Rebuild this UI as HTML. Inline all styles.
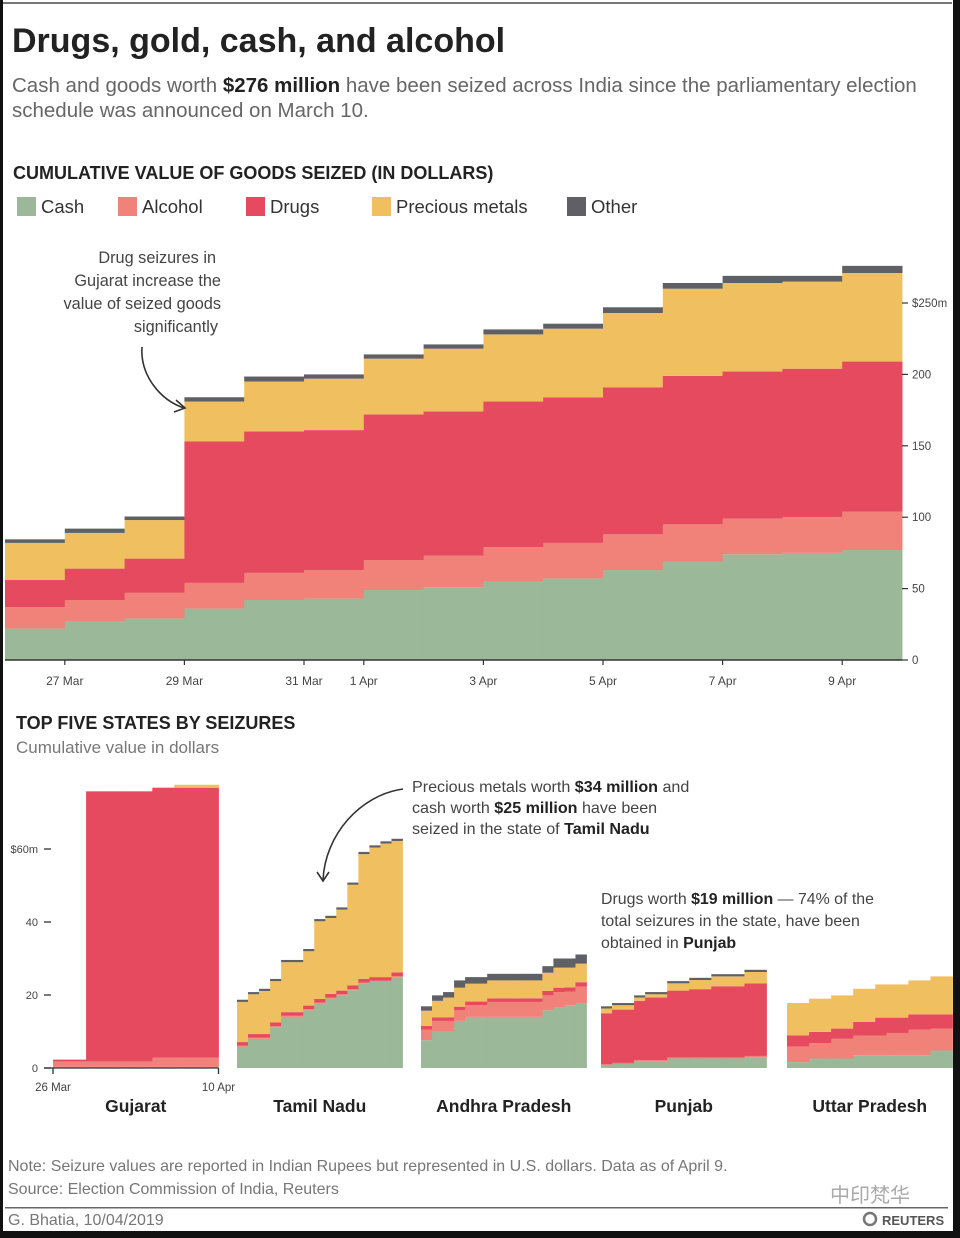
<!DOCTYPE html>
<html><head><meta charset="utf-8"><style>
html,body{margin:0;padding:0;background:#fff}
svg{display:block}
text{font-family:"Liberation Sans","Noto Sans CJK SC",sans-serif}
</style></head><body>
<svg id="c" width="960" height="1238" viewBox="0 0 960 1238" xmlns="http://www.w3.org/2000/svg">
<rect x="0" y="0" width="960" height="1238" fill="#fff"/>
<rect x="0" y="2" width="952" height="2" fill="#777"/>
<rect x="0" y="0" width="3" height="1238" fill="#111"/>
<rect x="953" y="0" width="7" height="1238" fill="#111"/>
<rect x="0" y="1231" width="960" height="7" fill="#111"/>
<text x="12" y="52" font-size="34" font-weight="bold" fill="#222">Drugs, gold, cash, and alcohol</text>
<text x="12" y="92" font-size="20.5" fill="#666">Cash and goods worth <tspan font-weight="bold" fill="#222">$276 million</tspan> have been seized across India since the parliamentary election</text>
<text x="12" y="117" font-size="20.5" fill="#666">schedule was announced on March 10.</text>
<text x="13" y="179" font-size="18" font-weight="bold" fill="#222">CUMULATIVE VALUE OF GOODS SEIZED (IN DOLLARS)</text>
<g id="legend"></g>
<g id="main"></g>
<g font-size="16.3" fill="#444" text-anchor="end">
<text x="216" y="263">Drug seizures in</text>
<text x="221" y="286">Gujarat increase the</text>
<text x="221" y="309">value of seized goods</text>
<text x="218" y="332">significantly</text>
</g>
<path d="M142,347 C140,375 160,400 184,408" fill="none" stroke="#333" stroke-width="1.6"/>
<path d="M176,400 L185,408 L174,412" fill="none" stroke="#333" stroke-width="1.6"/>
<text x="16" y="729" font-size="18" font-weight="bold" fill="#222">TOP  FIVE STATES BY SEIZURES</text>
<text x="16" y="753" font-size="17" fill="#777">Cumulative value in dollars</text>
<g id="small"></g>
<g font-size="16.1" fill="#444">
<text x="412" y="792">Precious metals worth <tspan font-weight="bold" fill="#222">$34 million</tspan> and</text>
<text x="412" y="813">cash worth <tspan font-weight="bold" fill="#222">$25 million</tspan> have been</text>
<text x="412" y="834">seized in the state of <tspan font-weight="bold" fill="#222">Tamil Nadu</tspan></text>
</g>
<path d="M403,789 C360,795 325,835 323,880" fill="none" stroke="#333" stroke-width="1.6"/>
<path d="M317,872 L323,881 L329,872" fill="none" stroke="#333" stroke-width="1.6"/>
<g font-size="15.9" fill="#444">
<text x="601" y="904">Drugs worth <tspan font-weight="bold" fill="#222">$19 million</tspan> — 74% of the</text>
<text x="601" y="926">total seizures in the state, have been</text>
<text x="601" y="948">obtained in <tspan font-weight="bold" fill="#222">Punjab</tspan></text>
</g>
<text x="8" y="1171" font-size="16" fill="#777">Note: Seizure values are reported in Indian Rupees but represented in U.S. dollars. Data as of April 9.</text>
<text x="8" y="1194" font-size="16" fill="#777">Source: Election Commission of India, Reuters</text>
<text x="830" y="1202" font-size="20" fill="#aaa">中印梵华</text>
<rect x="5" y="1207" width="943" height="1.5" fill="#666"/>
<text x="8" y="1225" font-size="16" fill="#777">G. Bhatia,  10/04/2019</text>
<circle cx="870" cy="1219" r="6" fill="none" stroke="#777" stroke-width="2.5"/>
<text x="882" y="1225" font-size="13" font-weight="bold" fill="#555">REUTERS</text>
</svg>
<script>
// ---- Main chart data (millions USD, per-day increments by category, 26 Mar .. 9 Apr)
const days = ["26 Mar","27 Mar","28 Mar","29 Mar","30 Mar","31 Mar","1 Apr","2 Apr","3 Apr","4 Apr","5 Apr","6 Apr","7 Apr","8 Apr","9 Apr"];
const cash     = [22,27,29,36,42,43,49,51,55,57,63,69,74,75,77];
const alcohol  = [15,15,18,18,19,20,21,22,24,25,25,26,25,25,27];
const drugs    = [19,22,24,99,99,98,102,101,102,102,103,104,103,104,105];
const precious = [26,25,27,28,35,36,39,44,47,48,52,61,62,61,62];
const other    = [2.5,3,2.5,3,3.5,3,3,3,3.5,3.5,4,4,5,4,5];
const yTicks = [0,50,100,150,200,250];
const yTickLabels = ["0","50","100","150","200","$250m"];
const xTickLabels = ["27 Mar","29 Mar","31 Mar","1 Apr","3 Apr","5 Apr","7 Apr","9 Apr"];
const xTickIdx = [1,3,5,6,8,10,12,14];

// ---- State panels data (millions USD)
const states = ["Gujarat","Tamil Nadu","Andhra Pradesh","Punjab","Uttar Pradesh"];
const gjCash = [0.3,0.3,0.3,0.3,0.3,0.3,0.3,0.3,0.3,0.3,0.3,0.3,0.3,0.3,0.3];
const gjAlc  = [1.5,1.5,1.5,1.5,1.5,1.5,1.5,1.5,1.5,2.5,2.5,2.5,2.5,2.5,2.5];
const gjDrug = [0.5,0.5,0.5,74,74,74,74,74,74,74,74,74,74,74,74];
const gjPm   = [0,0,0,0,0,0,0,0,0,0,0,0.8,0.8,0.8,0.8];
const gjOth  = [0,0,0,0,0,0,0,0,0,0,0,0,0,0,0];
const tnCash = [5.8,8.0,8.0,11.2,14.0,14.0,15.8,17.6,19.0,19.9,21.3,23.1,23.6,23.6,24.9];
const tnAlc  = [0.3,0.3,0.3,0.3,0.3,0.3,0.3,0.3,0.3,0.3,0.3,0.3,0.3,0.3,0.3];
const tnDrug = [1,1,1,1,1,1,1,1,1,1,1,1,1,1,1];
const tnPm   = [11.0,10.9,11.8,11.3,13.7,13.7,14.9,21.3,20.8,22.2,27.6,34.2,35.5,36.6,36.0];
const tnOth  = [0.6,0.6,0.6,0.6,0.6,0.6,0.6,0.6,0.6,0.6,0.6,0.6,0.6,0.6,0.6];
const apCash = [7.6,9.9,9.9,12.9,14.0,14.0,14.0,14.0,14.0,14.0,14.0,15.8,16.7,17.2,17.7];
const apAlc  = [2.9,3.0,3.0,2.9,3.2,3.2,4.1,4.1,4.1,4.1,4.1,4.1,4.1,3.7,4.6];
const apDrug = [1,1,1,1,1,1,1,1,1,1,1,1.2,1.2,1.2,1.2];
const apPm   = [4.2,4.5,5.4,5.2,4.9,4.9,4.9,4.9,4.9,4.9,4.9,5.0,5.5,5.4,5.1];
const apOth  = [1.2,1.5,1.5,2.0,1.8,1.8,1.8,1.8,1.8,1.8,1.8,1.8,2.5,2.5,2.5];
const pbCash = [0.7,1.1,1.1,1.9,1.9,1.9,2.6,2.6,2.6,2.6,2.6,2.6,2.6,3.0,3.0];
const pbAlc  = [0.3,0.3,0.3,0.3,0.3,0.3,0.3,0.3,0.3,0.3,0.3,0.3,0.3,0.3,0.3];
const pbDrug = [14.0,14.6,14.6,16.2,17.1,17.1,18.3,18.3,18.7,18.7,19.5,19.5,19.5,19.9,19.9];
const pbPm   = [1.3,1.2,1.2,0.9,0.9,0.9,2.0,2.0,2.5,2.5,2.7,2.7,2.7,3.1,3.1];
const pbOth  = [0.6,0.6,0.6,0.6,0.6,0.6,0.6,0.6,0.6,0.6,0.6,0.6,0.6,0.6,0.6];
const upCash = [1.6,1.6,2.6,2.6,2.6,2.6,3.5,3.5,3.5,3.5,3.5,3.5,3.5,4.8,4.8];
const upAlc  = [4.3,4.3,4.2,4.2,5.4,5.4,5.4,5.4,5.4,6.1,6.1,7.0,7.0,6.0,6.0];
const upDrug = [3.0,3.0,3.1,3.1,2.8,2.8,3.7,3.7,4.9,4.2,4.2,4.2,4.2,3.9,3.9];
const upPm   = [8.9,8.9,9.1,9.1,9.1,9.1,9.1,9.1,9.1,9.1,9.1,9.3,9.3,10.4,10.4];
const upOth  = [0,0,0,0,0,0,0,0,0,0,0,0,0,0,0];
const smallTicks = [0,20,40,60];
const smallTickLabels = ["0","20","40","$60m"];

const NS = "http://www.w3.org/2000/svg";
const COLORS = ["#9bb898","#f08279","#e64a5f","#f0c060","#5f6066"];
const NAMES = ["Cash","Alcohol","Drugs","Precious metals","Other"];
function mk(tag, attrs, parent){const e=document.createElementNS(NS,tag);for(const k in attrs)e.setAttribute(k,attrs[k]);parent.appendChild(e);return e;}

// legend
const lg=document.getElementById('legend');
const lgX=[17,118,246,372,567];
NAMES.forEach((n,i)=>{
  const r=mk('rect',{x:lgX[i],y:197,width:19,height:19,fill:COLORS[i]},lg);
  
  
  const t=mk('text',{x:lgX[i]+24,y:213,'font-size':18.5,fill:'#333'},lg);
  t.textContent=n;
  
  
});

// main chart
const main=document.getElementById('main');
const X0=5, DW=59.8, Y0=660, YS=1.428;
const xM=i=>X0+i*DW;
const yM=v=>Y0-v*YS;
const series=[cash,alcohol,drugs,precious,other];
const serNames=["cash","alcohol","drugs","precious-metals","other"];
days.forEach((d,i)=>{
  let base=0;
  series.forEach((s,k)=>{
    const top=base+s[i];
    const r=mk('rect',{x:xM(i),y:yM(top),width:DW+0.5,height:yM(base)-yM(top),fill:COLORS[k]},main);
    
    
    base=top;
  });
});
const axL=mk('line',{x1:X0,y1:Y0,x2:xM(days.length),y2:Y0,stroke:'#333','stroke-width':1.5},main);


xTickIdx.forEach((di,j)=>{
  const x=xM(di);
  const tk=mk('line',{x1:x,y1:Y0,x2:x,y2:Y0+5,stroke:'#333','stroke-width':1.2},main);
  
  
  const t=mk('text',{x:x,y:Y0+25,'font-size':12,fill:'#444','text-anchor':'middle'},main);
  t.textContent=xTickLabels[j];
  
  
});
const xR=xM(days.length);
yTicks.forEach((v,j)=>{
  const y=yM(v);
  const tk=mk('line',{x1:xR,y1:y,x2:xR+6,y2:y,stroke:'#333','stroke-width':1.2},main);
  
  
  const t=mk('text',{x:xR+10,y:y+4,'font-size':11.5,fill:'#444'},main);
  t.textContent=yTickLabels[j];
  
  
});

// small multiples
const sm=document.getElementById('small');
const SY0=1068, SS=3.65, PW=165.5, SDW=PW/15;
const panelX=[53,237,421,601,787];
const stateData=[[gjCash,gjAlc,gjDrug,gjPm,gjOth],[tnCash,tnAlc,tnDrug,tnPm,tnOth],[apCash,apAlc,apDrug,apPm,apOth],[pbCash,pbAlc,pbDrug,pbPm,pbOth],[upCash,upAlc,upDrug,upPm,upOth]];
const yS=v=>SY0-v*SS;
stateData.forEach((sd,p)=>{
  const px=panelX[p];
  const g=mk('g',{},sm);
  
  
  for(let i=0;i<15;i++){
    let base=0;
    sd.forEach((s,k)=>{
      const top=base+s[i];
      if(s[i]>0){
        const r=mk('rect',{x:px+i*SDW,y:yS(top),width:SDW+0.4,height:yS(base)-yS(top),fill:COLORS[k]},g);
        
        
      }
      base=top;
    });
  }
  const lb=mk('text',{x:px+PW/2,y:1112,'font-size':17.5,'font-weight':'bold',fill:'#222','text-anchor':'middle'},g);
  lb.textContent=states[p];
  
  
});
smallTicks.forEach((v,j)=>{
  const y=yS(v);
  const tk=mk('line',{x1:44,y1:y,x2:51,y2:y,stroke:'#333','stroke-width':1.3},sm);
  
  
  const t=mk('text',{x:38,y:y+4,'font-size':11,fill:'#444','text-anchor':'end'},sm);
  t.textContent=smallTickLabels[j];
  
  
});
const sax=mk('line',{x1:44,y1:SY0,x2:53+PW,y2:SY0,stroke:'#333','stroke-width':1.3},sm);


[[53,"26 Mar"],[53+PW,"10 Apr"]].forEach(([x,l])=>{
  const tk=mk('line',{x1:x,y1:SY0,x2:x,y2:SY0+6,stroke:'#333','stroke-width':1.3},sm);
  
  
  const t=mk('text',{x:x,y:SY0+23,'font-size':11.5,fill:'#444','text-anchor':'middle'},sm);
  t.textContent=l;
  
  
});
</script>
</body></html>
